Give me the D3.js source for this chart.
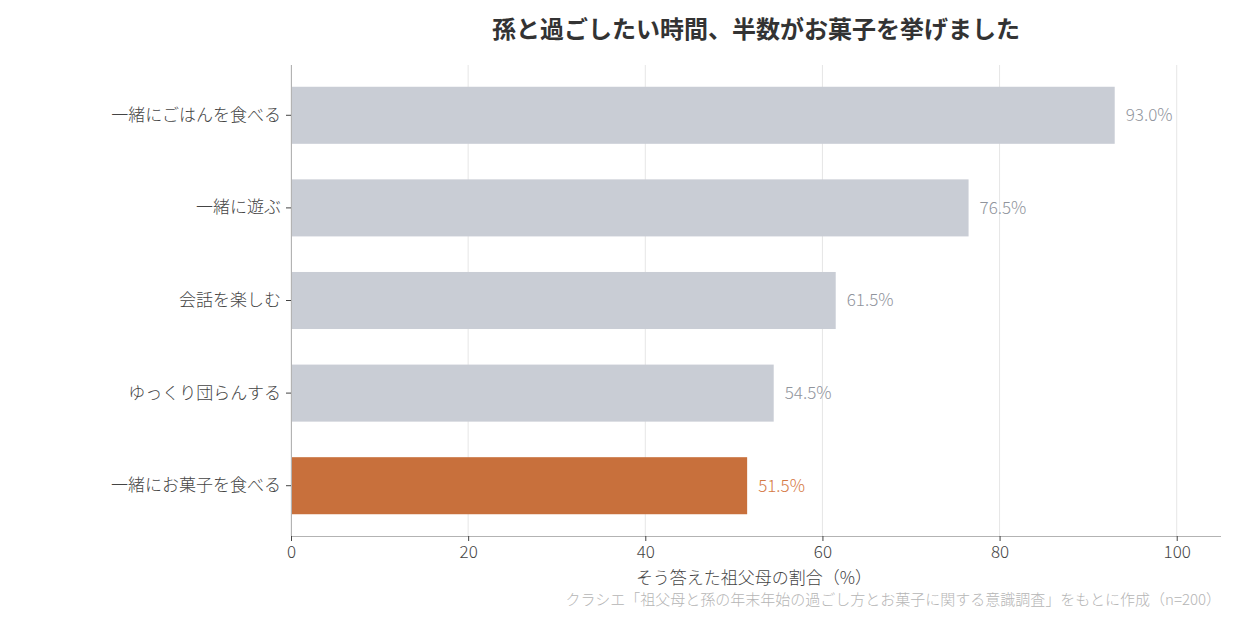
<!DOCTYPE html>
<html>
<head>
<meta charset="utf-8">
<script src="https://cdn.jsdelivr.net/npm/d3@7"></script>
<style>
  body { margin: 0; background: #fff; }
  svg { font-family: "Noto Sans CJK JP", "Noto Sans", sans-serif; }
</style>
</head>
<body>
<svg id="chart" width="1240" height="620"></svg>
<script>
// data
const categories = ['一緒にごはんを食べる', '一緒に遊ぶ', '会話を楽しむ', 'ゆっくり団らんする', '一緒にお菓子を食べる']
const values = [93.0, 76.5, 61.5, 54.5, 51.5]
const highlight = '一緒にお菓子を食べる'
const xTicks = [0, 20, 40, 60, 80, 100]

const title = '孫と過ごしたい時間、半数がお菓子を挙げました'
const xLabel = 'そう答えた祖父母の割合（%）'
const source = 'クラシエ「祖父母と孫の年末年始の過ごし方とお菓子に関する意識調査」をもとに作成（n=200）'

const margin = { top: 65, right: 19, bottom: 84, left: 291 }
const width = 1240
const height = 620
const fontFamily = '"Noto Sans CJK JP", "Noto Sans", sans-serif'

const svg = d3.select('#chart')

const x = d3.scaleLinear()
  .domain([0, 105])
  .range([margin.left, width - margin.right])

const y = d3.scaleBand()
  .domain(categories)
  .range([margin.top, height - margin.bottom])
  .paddingInner(0.384)
  .paddingOuter(0.235)

// grid
svg.append('g')
  .selectAll('line')
  .data(xTicks)
  .join('line')
  .attr('x1', (d) => x(d))
  .attr('x2', (d) => x(d))
  .attr('y1', margin.top)
  .attr('y2', height - margin.bottom)
  .attr('stroke', '#e6e6e6')
  .attr('stroke-width', 1)

// bars
svg.append('g')
  .selectAll('rect')
  .data(categories)
  .join('rect')
  .attr('x', x(0))
  .attr('y', (d) => y(d))
  .attr('width', (d, i) => x(values[i]) - x(0))
  .attr('height', y.bandwidth())
  .attr('fill', (d) => (d === highlight ? '#c8703c' : '#c9cdd5'))

// value labels
svg.append('g')
  .selectAll('text')
  .data(categories)
  .join('text')
  .attr('x', (d, i) => x(values[i]) + 11)
  .attr('y', (d) => y(d) + y.bandwidth() / 2)
  .attr('dy', '0.35em')
  .attr('font-size', 17)
  .attr('font-weight', 300)
  .attr('fill', (d) => (d === highlight ? '#d57a45' : '#90949c'))
  .text((d, i) => `${values[i].toFixed(1)}%`)

// x axis
const xAxis = svg.append('g')
  .attr('transform', `translate(0,${height - margin.bottom})`)
  .call(d3.axisBottom(x).tickValues(xTicks).tickSize(5).tickPadding(5))
xAxis.select('.domain').attr('stroke', '#b3b3b3').attr('d', `M${x(0)},0.5H${width - margin.right}`)
xAxis.selectAll('.tick line').attr('stroke', '#444')
xAxis.selectAll('.tick text')
  .attr('font-family', fontFamily)
  .attr('font-size', 17)
  .attr('font-weight', 300)
  .attr('fill', '#444')

// y axis
const yAxis = svg.append('g')
  .attr('transform', `translate(${margin.left},0)`)
  .call(d3.axisLeft(y).tickSize(5).tickPadding(5))
yAxis.select('.domain').attr('stroke', '#b3b3b3').attr('d', `M0.5,${margin.top}V${height - margin.bottom}`)
yAxis.selectAll('.tick line').attr('stroke', '#444')
yAxis.selectAll('.tick text')
  .attr('font-family', fontFamily)
  .attr('font-size', 17)
  .attr('font-weight', 300)
  .attr('fill', '#444')

// axis title
svg.append('text')
  .attr('x', 754)
  .attr('y', 584)
  .attr('text-anchor', 'middle')
  .attr('font-size', 17)
  .attr('font-weight', 300)
  .attr('fill', '#444')
  .text(xLabel)

// chart title
svg.append('text')
  .attr('x', (x(0) + x(105)) / 2)
  .attr('y', 38)
  .attr('text-anchor', 'middle')
  .attr('font-size', 24)
  .attr('font-weight', 700)
  .attr('fill', '#333')
  .text(title)

// source note
svg.append('text')
  .attr('x', 1221)
  .attr('y', 605)
  .attr('text-anchor', 'end')
  .attr('font-size', 15)
  .attr('font-weight', 300)
  .attr('fill', '#b5b5b5')
  .text(source)
</script>
</body>
</html>
